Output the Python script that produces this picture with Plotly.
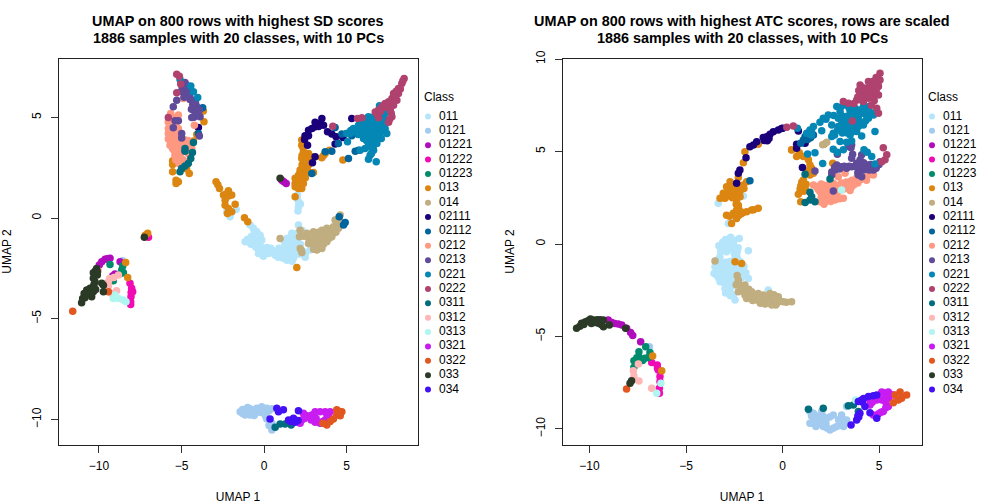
import plotly.graph_objects as go

classes = ["011","0121","01221","01222","01223","013","014","02111","02112","0212","0213","0221","0222","0311","0312","0313","0321","0322","033","034"]
colors = ["#B5E5FB","#A3CBF0","#B00CBE","#F00BB4","#008B6C","#DC8612","#C0AE80","#1A007A","#00659C","#FF9880","#5F4B9A","#0487B5","#B0426F","#006E7F","#FFB6B6","#AFF5F0","#C91CF0","#E2561F","#2A3A26","#4410F5"]

sd_011 = [(-2.26,.31),(-2.06,.06),(-1.69,.43),(-.85,-.35),(-.44,-.68),(-.24,-.85),(-.64,-1.01),(-.14,-1.09),(-.54,-1.26),(-1.15,-1.18),(-.24,-1.34),(.17,-1.46),(-.34,-1.76),(.27,-1.76),(.67,-1.84),(1.07,-1.92),(1.38,-2.09),(1.78,-2),(2.49,-1.95),(1.48,-1.59),(1.58,-1.18),(1.78,-.93),(1.88,-1.34),(1.68,-.76),(2.08,-.35),(2.08,.81),(2.08,.56),(2.02,1.14),(2.29,-.6),(2.79,-1.59),(1.07,-1.59),(1.28,-1.34),(-.45,-1.1),(-.3,-1.5),(.5,-1.6),(.9,-1.5),(1.3,-1.7),(1.7,-1.6),(2.1,-1.8),(2.2,-1.3),(-.75,-.9),(-.9,-1.1),(.1,-1.75),(1.4,-1.0),(1.0,-1.75),
 (-.6,-.6),(-.35,-1.3),(-.8,-1.3),(-.1,-1.55),(.4,-1.5),(.6,-1.75),(1.2,-1.55),(1.55,-1.9),(1.9,-1.75),(2.35,-1.65),(2.5,-1.75),(1.5,-1.35),(1.7,-1.15),(2,-1.1),(2,-.75),(.15,-1.7),(-.05,-1.9),(-.5,-1.45),(1.15,-2),(.85,-1.95),(1.7,-2.15),(1.25,-1.2),(2.05,.35),(2.2,.7),(2,1),(-.65,-.5),(-1,-1.05)]
sd_0121 = [(-1.45,-9.61),(-1.15,-9.52),(-.85,-9.47),(-1.15,-9.77),(-.85,-9.77),(-.54,-9.69),(-.44,-9.44),(-.14,-9.36),(.16,-9.44),(.46,-9.47),(.06,-9.74),(.16,-9.97),(.47,-10.19),(.47,-10.52),(-.5,-9.5),(-1.3,-9.7),(.2,-9.6),(-8.58,-2.12),(-1.3,-9.5),(-1,-9.4),(-.7,-9.55),(-.35,-9.55),(-.6,-9.8),(-1,-9.65),(-.7,-9.7),(-.1,-9.5),(.3,-9.55),(.1,-9.85),(.3,-10.3),(-.2,-9.65)]
sd_01221 = [(-9.33,-2),(-9.63,-2.05),(-9.83,-2.17),(-9.98,-2.33),(-8.72,-2.17),(-9.03,-2.78),(-9.17,-2.88),(-9.5,-2.02),(1.07,1.88),(1.34,1.72),(1.2,1.8)]
sd_01222 = [(-8.12,-3.24),(-8.02,-3.49),(-7.96,-3.66),(-8.06,-3.91),(-8.08,-4.15),(-8.08,-4.29),(-8.05,-3.7),(-7.0,-.95)]
sd_01223 = [(-9.33,-2.3),(-8.56,-2.38),(-8.62,-2.58),(-8.52,-2.71),(-9.13,-3.11),(-8.7,-2.75),(-9.25,-3.05)]
sd_013 = [(2.28,3.87),(2.48,3.7),(2.28,3.62),(2.38,3.29),(2.69,3.2),(2.59,2.96),(2.28,2.96),(2.89,3.04),(2.69,2.63),(2.38,2.63),(2.18,2.38),(2.48,2.3),(2.69,2.3),(2.08,2.13),(2.38,2.05),(1.88,1.97),(2.18,1.8),(2.38,1.72),(1.88,1.72),(2.08,1.47),(2.28,1.47),(1.88,1.55),(2.99,2.26),(3.49,2.99),(3.7,3.2),(3.96,3.37),(4.77,2.88),(2.3,2.2),(2.5,2.5),(2,1.9),(2.2,2.1),(2.3,2.65),(2.5,2),(2.25,1.9),(2.05,1.75),(2.2,1.6),(2.5,2.15),(2.55,3.05),(2.35,3.5),(2.15,2.2),(2.6,2.45),(2.3,3.1),(2.75,3),(3.6,3.1),
 (-2.91,1.8),(-2.7,1.47),(-2.46,1.14),(-2.16,1.35),(-1.96,1.14),(-2.36,.89),(-2.36,.64),(-2.16,.48),(-1.96,.31),(-1.75,.68),(-2.22,.23),(-1.19,.01),(-.99,-.18),(1.98,-2.45),(1.88,1.06),(-2.3,1.2),(-2.15,1.1),(-2.8,1.65),
 (-3.68,5.31),(-3.64,4.78),(-4.08,4.15),(-4.28,3.82),(-5.54,2.84),(-5.54,2.66),(-5.54,2.3),(-4.69,2.43),(-4.53,2.21),(-5.33,1.88),(-5.19,1.8),(-5.33,1.72),(-5.45,2.75),(-7.2,-.85),(-7.05,-.75),(-8.38,-2.2),(-8.26,-2.95)]
sd_014 = [(.97,-1.01),(2.18,-.6),(2.14,-.93),(2.18,-1.51),(2.29,-1.72),(2.59,-.76),(2.79,-1.01),(2.99,-.68),(2.69,-1.26),(2.99,-1.34),(3.2,-1.59),(3.5,-1.51),(3.3,-1.09),(3.6,-.85),(3.5,-.6),(3.8,-.51),(4,-.76),(3.8,-1.18),(4.2,-.43),(4.41,-.18),(4.51,-.51),(4.61,.15),(3.2,-.85),(3,-1),(3.7,-1.01),(4.1,-.93),(3.5,-1.18),(4.3,-.1),(4.2,-.75),(3,-1.55),(2.7,-1),(3.3,-.7),
 (2.85,-.85),(3.1,-1.2),(3.4,-1.35),(3.6,-1.3),(2.85,-1.15),(3.15,-1.4),(3.85,-.85),(3.95,-1),(3.4,-.9),(3.55,-1),(4.1,-.6),(4.3,-.5),(4.4,-.35),(4.55,-.05),(3.65,-.65),(3.95,-.55),(3,-.85),(2.4,-.9),(2.25,-1.6),(4.35,-.7)]
sd_02111 = [(3.5,4.94),(3.39,4.69),(3.09,4.75),(3.09,4.53),(3.6,4.61),(2.69,4.36),(2.48,4.08),(2.69,4.08),(3.84,4.28),(4.1,4.17),(4.36,4.03),(4.77,4),(4.3,3.67),(2.63,3.62),(3.09,3.04),(2.93,2.74),(5.31,4.94),(-3.98,4.5),(2.9,4.45),(3.3,4.55),(2.45,3.9)]
sd_02112 = [(4.71,4.17),(5.01,4.2),(5.31,4.08),(4.3,4.5),(4.5,3.7),(2.89,2.21),(3.7,3.29),(4.1,3.32),(5.52,3.32),(5.72,3.37),(5.11,2.96),(-3.72,5.47),(-3.98,4.2),(4.55,.06),(4.81,-.35),(4.91,-.22)]
sd_0212 = [(-5.66,5.19),(-5.8,4.75),(-5.19,5.11),(-4.89,5.94),(-4.22,4.61),(-5.8,4.45),(-5.8,4.2),(-5.5,4.28),(-5.19,4.45),(-5.8,3.92),(-5.5,3.95),(-5.19,4.03),(-5.7,3.62),(-5.4,3.7),(-5.09,3.75),(-4.79,3.87),(-4.59,3.62),(-5.46,3.37),(-5.19,3.45),(-5.4,3.12),(-5.09,3.04),(-4.89,2.88),(-4.59,3.2),(-4.38,3.45),(-5.5,4.9),(-5.3,3.55),(-5,3.3),(-5.6,4.1),(-5.35,4.1),(-5.65,3.75),(-5.55,3.45),(-5.35,3.25),(-5.2,3.2),(-5.05,3.55),(-4.9,3.6),(-4.8,3.7),(-4.6,3.85),(-4.45,3.7),(-5,2.95),(-5.35,2.9),(-5.15,2.7),(-5.7,4.3),(-5.65,4.5),(-5.55,5),(-5.35,4.65)]
sd_0213 = [(-4.79,6.73),(-4.99,6.6),(-4.79,6.43),(-4.59,6.35),(-4.89,6.23),(-4.65,6.13),(-5.29,5.85),(-5.5,5.52),(-4.49,5.89),(-4.28,5.85),(-4.32,5.64),(-4.08,5.52),(-4.28,5.36),(-3.92,5.36),(-4.18,5.11),(-4.38,4.99),(-3.88,5.03),(-5.39,4.83),(-5.19,4.83),(-3.92,4.07),(-4.99,3.98),(-4.99,4.2),(-5.5,4.48),(-4.1,5.2),(-4.95,6.45),(-4.75,6.25),(-4.6,6.5),(-4.85,6),(-4.5,6),(-4.2,5.5),(-4.15,5.7),(-4.4,5.4),(-4.05,5.35),(-4,5.1),(-4.25,5),(-4.7,6.6),(-5,6.3)]
sd_0221 = [(7.33,5.44),(7.23,5.11),(7.43,4.86),(7.13,4.69),(7.33,4.45),(7.43,4.2),(7.03,4.28),(6.83,4.03),(6.53,3.7),(6.83,3.7),(6.63,3.37),(6.42,3.12),(6.32,2.92),(6.79,2.79),(6.99,5.57),(6.83,4.86),(6.53,4.69),(6.73,4.45),(6.32,5.03),(5.92,4.69),(6.12,4.53),(5.72,4.61),(5.41,4.45),(5.21,4.2),(5.52,4.28),(5.82,4.2),(6.22,4.12),(6.53,4.36),(6.02,3.95),(6.32,3.7),(5.05,3.79),(5.82,3.37),(6.12,3.45),(7,5),(6.9,4.3),(6.4,3.95),(6.6,4.1),(6.1,4.3),(7.1,3.95),(-5.09,6.88),(-4.44,6.56),(-4.28,6.27),(-4.02,5.99),
 (6.6,3.5),(6.5,3.2),(6.95,4.5),(7.25,4.6),(7.2,4.3),(6.9,4.1),(6.75,3.9),(6.65,4.65),(6.4,4.5),(6.25,4.7),(6.1,4.75),(5.95,4.45),(5.65,4.4),(5.7,4.15),(6,4.15),(6.4,4.3),(6.75,4.85),(6.6,5),(7.1,5.3),(7,5.4),(7.3,5.2),(6.5,3.5),(6.2,3.85),(6.6,3.85),(7.2,4.9),(6.45,4.85),(5.25,4.35),(5,4.2)]
sd_0222 = [(8.48,6.93),(8.34,6.68),(8.14,6.43),(7.84,6.18),(8.14,6.18),(7.74,5.94),(8.04,5.85),(7.54,5.77),(7.84,5.6),(7.33,5.69),(6.93,5.36),(6.73,5.27),(6.93,4.98),(7.64,5.36),(7.74,5.03),(7.54,4.75),(5.66,4.94),(5.92,4.98),(4.16,4.56),(7.95,5.95),(7.65,5.6),(8.25,6.4),(8,6.3),(7.9,5.85),(7.75,5.75),(7.5,5.55),(7.25,5.5),(7.6,5.45),(7.45,5.65),(7.15,5.55),(8.4,6.8),(6.85,5.15),(7.7,5.2),(7.6,4.9),(7.05,5.3),
 (-5.29,7.14),(-5.13,7.04),(-5.05,6.65),(-5.29,6.22),(-5.8,4.99)]
sd_0311 = [(-4.79,3.45),(-4.79,3.32),(-4.34,3.25),(-4.44,2.96),(-4.59,2.71),(-4.79,2.58),(-4.99,2.46),(-5.09,2.3),(-4.28,3.75),(.67,-10.38),(.97,-10.22),(1.27,-10.22),(1.64,-10.27)]
sd_0312 = [(-10.04,-2.62),(-9.43,-3.16),(-9.43,-3.38),(-8.93,-3.61),(-8.82,-2.83),(-9.23,-3.74),(-9.1,-2.95),(-9.35,-3.0)]
sd_0313 = [(-9.13,-3.99),(-8.82,-3.99),(-8.52,-4.07),(-8.36,-4.15),(-9.03,-3.82)]
sd_0321 = [(2.38,-9.69),(2.59,-9.81),(2.28,-10.02),(2.18,-10.19),(2.89,-9.77),(2.85,-10.02),(3.09,-9.61),(3.39,-9.61),(3.7,-9.61),(4,-9.61),(3.9,-9.86),(3.7,-10.02),(3.39,-10.19),(3.09,-10.14),(3.55,-10.1),(3.8,-9.75),(3.15,-9.95),(2.75,-9.85),(2.45,-9.95)]
sd_0322 = [(-9.43,-3.66),(-11.59,-4.62),(4.4,-9.52),(4.71,-9.61),(4.4,-9.77),(4.2,-9.97),(4,-10.1),(3.8,-10.27),(3.56,-10.19),(4.61,-9.81),(4.55,-9.6)]
sd_033 = [(-10.14,-2.5),(-10.34,-2.72),(-10.1,-2.83),(-10.34,-2.99),(-10.24,-3.16),(-9.83,-3.24),(-9.73,-3.33),(-10.34,-3.41),(-10.54,-3.49),(-10.74,-3.57),(-10.34,-3.66),(-10.64,-3.74),(-10.9,-3.74),(-10.99,-3.99),(-11.05,-4.2),(-10.44,-3.91),(-9.73,-3.66),(-7.25,-.95),(.97,1.97),(-10.45,-3.6),(-10.2,-3.55),(-10.6,-3.6),(-10.3,-3.3),(-10.25,-2.8),(-10.2,-2.6),(-10.75,-3.8),(-10.85,-3.95),(-10.5,-3.75),(-10.1,-2.65)]
sd_034 = [(.77,-9.44),(1.17,-9.52),(.87,-9.61),(.36,-9.97),(1.48,-10.02),(1.78,-9.94),(1.88,-10.14),(2.08,-9.56),(1.6,-10.1),(2.05,-10.05)]

atc_011 = [(-3.33,2.2),(-2.03,2.59),(-2.81,1.11),(-2.55,1.38),(-2.69,.36),(-2.24,.3),(-1.77,-.36),(-2.9,.03),(-2.55,-.06),(-3.16,-.24),(-2.9,-.42),(-3.24,-.69),(-2.9,-.98),(-2.46,-.69),(-3.5,-1.23),(-3.16,-1.23),(-2.81,-1.23),(-2.46,-1.32),(-3.55,-1.59),(-3.24,-1.68),(-2.9,-1.59),(-2.55,-1.59),(-2.12,-1.59),(-3.24,-2.04),(-2.9,-2.13),(-2.98,-2.4),(-1.77,-1.86),(-2.46,-3.03),(-.74,-2.49),(-2.55,-2.76),(-2.72,-2.49),(-2.12,-1.14),(-3.3,-.95),(-3,-1),(-2.7,-.95),(-2.3,-1),(-3.35,-1.45),(-3.05,-1.85),(-2.6,-2),(-2.3,-1.9),(-2,-1.2),(-3.1,.1),(-2.8,-.15),(-2.35,-.4),
 (-3.2,-.4),(-2.35,-.7),(-2.2,-.95),(-3.35,-.85),(-3.45,-1.05),(-3.2,-1.1),(-3,-1.35),(-2.7,-1.2),(-2.4,-1.15),(-2.2,-1.4),(-3.4,-1.35),(-3.1,-1.5),(-2.8,-1.5),(-2.6,-1.75),(-2.35,-1.5),(-3.3,-1.85),(-3.1,-2.05),(-2.8,-1.8),(-2,-1.7),(-1.9,-1.55),(-2.85,-2.3),(-2.7,-2.8),(-2.3,-.2),(-2.95,.25),(-2.5,.2),(-2.75,.1),(-3.3,-.1),(-2.65,-.25),(-2.5,-.5),(-2.95,-2.65),(-2.55,-2.25),(-2.15,-1.85),(-3.4,-1.7),(-3.2,-.2),(-3.05,-.25)]
atc_0121 = [(-6.9,-5.55),(1.42,-9.06),(2.03,-9.06),(1.6,-9.42),(1.42,-9.69),(1.86,-9.6),(2.11,-9.33),(2.11,-9.87),(2.46,-10.05),(2.81,-9.87),(3.16,-9.87),(3.32,-9.51),(3.06,-9.24),(2.63,-9.24),(2.29,-9.42),(3.32,-8.78),(1.73,-9.87),(1.6,-9.15),(2.25,-9.7),(2.9,-9.5),(1.5,-9.3),(1.75,-9.3),(1.95,-9.45),(2,-9.75),(1.6,-9.7),(2.3,-9.95),(2.65,-9.95),(3,-9.8),(3.25,-9.7),(2.45,-9.35),(3.1,-9.45)]
atc_01221 = [(-9.03,-4.11),(-8.85,-4.25),(-8.51,-4.32),(-8.33,-4.38),(-8.08,-4.56),(-7.87,-4.79),(-7.76,-4.94),(-7.35,-5.28),(-8.7,-4.3)]
atc_01222 = [(-6.78,-6.4),(-6.49,-6.54),(-6.44,-6.81),(-6.35,-7.17),(-6.35,-7.44),(-6.38,-7.8),(-6.38,-8.07),(-6.48,-6.7)]
atc_01223 = [(-7.09,-5.55),(-7.44,-5.82),(-7.44,-6.09),(-7.7,-6.31),(-7.38,-6.24),(-6.87,-5.87),(-6.95,-6.13),(-7.7,-6.67),(-7.13,-6.18),(-7.25,-6.3),(-7.55,-6.15)]
atc_013 = [(-6.73,-6.05),(-6.26,-6.85),(2.15,5.39),(.47,5.09),(.87,4.94),(.73,4.73),(1.08,4.73),(1.34,4.55),(1.42,4.27),(1.51,4.09),(1.25,3.95),(1.6,3.82),(1.42,3.73),(2.6,4.37),(1.08,3.46),(.99,3.23),(1.22,3.23),(.91,2.98),(1.17,3.01),(.82,2.69),(.94,2.29),(.95,3.15),(1.1,2.85),(1,3.35),
 (-1.26,5.4),(-1.95,4.99),(-2.03,4.39),(-2.29,3.6),(-2.72,3.37),(-2.9,3.1),(-2.55,3),(-2.29,3.19),(-2.03,3.19),(-1.86,3.37),(-3.07,2.74),(-2.81,2.74),(-2.46,2.74),(-2.21,2.83),(-3.24,2.47),(-2.98,2.47),(-2.38,2.38),(-2.29,2.1),(-2.38,1.84),(-2.12,1.65),(-1.86,1.75),(-1.6,1.84),(-1.26,1.93),(-2.9,1.56),(-2.55,1.66),(-2.38,1.38),(-2.64,1.11),(.47,5.08),(-2.46,-.96),(-2.12,-1.05),(-2.6,2.5),
 (-2.6,3.15),(-2.4,2.9),(-2.2,3),(-2,3),(-2.65,2.6),(-2.35,2.6),(-2.2,2.55),(-2.75,2.9),(-2.9,2.6),(-2.4,2.15),(-2.25,1.85),(-2.05,1.7),(-2.25,1.55),(-2.45,1.6),(-3.1,2.5),(-2.75,1.5),(-1.5,1.85)]
atc_014 = [(2.29,5.5),(2.08,5.36),(-3.5,-.92),(-2.29,-1.95),(-2.21,-2.22),(-1.95,-2.22),(-2.29,-2.58),(-1.95,-2.76),(-1.6,-2.58),(-1.26,-2.67),(-1.6,-2.94),(-1.86,-2.94),(-1.34,-3.03),(-1,-2.76),(-.65,-2.67),(-.91,-3.06),(-.56,-3.03),(-.22,-2.85),(-.31,-3.21),(.04,-3.12),(.47,-3.12),(-.56,-3.3),(-2.1,-2.5),(-1.3,-2.8),(-.8,-2.85),(-2.35,-1.7),(-1.75,-2.7),(-1.45,-2.75),(-1.1,-2.95),(-.75,-2.95),(-.4,-3),(-.1,-3.1),(.2,-3.15),(-2,-2.55),(-2.05,-2.4),(-2.4,-2.2),(-1.75,-2.45),(-1.55,-3.05),(-1.15,-3.2),(-.9,-3.25),(-.35,-3.3),(-.45,-2.75)]
atc_02111 = [(.01,6.26),(.82,6.11),(.73,5.39),(1.17,5.45),(.73,5.18),(1.03,4.13),(-.05,6.25),(-.22,6.16),(-.48,6.07),(-.65,5.94),(-.82,5.8),(-1,5.76),(-.79,5.58),(-1.34,5.53),(-1.51,5.35),(-1.69,5.26),(-1.89,4.66),(-2.21,4),(-2.29,3.82),(-2.38,3.28),(-.7,5.7),(-.95,5.6)]
atc_02112 = [(1.34,5.81),(1.17,5.81),(1.08,5.63),(.94,5.45),(1.6,5.9),(-1.69,3.42),(1.3,5.65),(1.45,5.75)]
atc_0212 = [(4.45,3.73),(4.27,3.55),(4.02,3.46),(3.76,3.46),(3.5,3.37),(3.32,3.19),(3.58,3.1),(2.89,3.64),(3.24,3.82),(1.6,3.19),(1.86,3.1),(2.11,3.19),(2.37,3.19),(2.63,3.28),(2.89,3.16),(3.06,3.1),(1.94,2.83),(2.11,2.83),(2.46,2.74),(2.89,2.83),(2.15,2.56),(2.46,2.47),(2.72,2.38),(1.94,2.29),(2.2,2.29),(3.15,2.47),(3.5,2.89),(4.71,3.73),(3.9,3.3),(2.7,2.9),(2.3,3),(3.25,3),
 (2.3,2.6),(2.55,2.6),(2.75,2.6),(2,3),(2.3,2.85),(1.85,2.95),(1.75,3.1),(2,3.25),(2.45,3.2),(2.75,3.05),(3.05,3.3),(3.3,3.35),(3.6,3.45),(3.85,3.6),(4.15,3.6),(4.35,3.45),(3.7,3.2),(3.4,3.1),(3.1,2.95),(2,2.5),(2.5,2.3),(2.95,2.45),(2.3,2.45),(2.15,2.15)]
atc_0213 = [(3.58,5.36),(3.41,5.27),(2.84,4.85),(3.63,4.85),(3.58,4.64),(4.1,4.82),(4.02,4.55),(3.84,4.37),(4.1,4.27),(4.36,4.27),(4.62,4.18),(4.88,4.27),(5.05,4.45),(4.71,4),(4.19,4),(3.93,4),(3.58,4.18),(3.32,4.09),(3.06,4.18),(2.81,4.27),(2.72,4),(2.55,3.73),(3.93,3.73),(4.1,3.64),(2.63,2.87),(1.68,3.95),(2.95,4.05),(4.4,4.05),(4.2,4.4),(3.95,4.2),(4.25,4.15),(4.55,4.3),(4.85,4.1),(4.05,4.05),(3.75,4.2),(3.2,4.2),(3.45,4.2),(2.7,4.15),(2.55,3.9),(3.9,3.85),(4.5,4),(5,4.3),(3.55,5.2)]
atc_0221 = [(4.1,8.27),(4.45,7.43),(4.19,7.43),(4.02,7.25),(3.76,7.34),(3.5,7.16),(3.24,7.52),(2.81,7.43),(2.98,7.16),(4.71,6.98),(4.45,6.8),(4.19,7.07),(3.93,6.89),(3.58,6.98),(3.15,6.62),(2.89,6.8),(2.55,6.44),(2.89,6.35),(3.15,6.17),(3.41,6.17),(3.67,6.26),(3.93,6.35),(4.19,6.44),(2.63,5.99),(2.55,5.81),(3.5,5.9),(3.84,6.08),(4.1,5.84),(4.79,6.08),(2.98,5.54),(3.32,5.5),(3.58,5.57),(2.63,5.12),(2.84,4.96),(3.15,5.09),(1.68,4.94),(1.3,4.87),(2.08,4.35),(4.22,5.09),(4.39,4.96),(4.62,4.73),(4.79,4.33),(2.37,6.98),(2.11,6.8),(1.94,6.58),(2.03,6.13),(1.6,6.35),(1.42,6.17),(1.25,5.99),(1.51,5.9),(.77,6.26),(3.4,6.4),(3.7,6.7),(3.3,6.9),
 (4.25,7.25),(4.35,6.95),(4,7.05),(3.75,7.1),(3.45,6.75),(3.25,6.75),(3.05,6.95),(2.65,6.95),(3.05,6.45),(3.3,6.3),(3.55,6.45),(3.8,6.5),(4.05,6.6),(4.3,6.65),(3.1,6),(3.35,6),(3.6,6.05),(2.85,6.15),(2.7,5.9),(3,7.4),(3.45,7.35),(4.6,7.1),(1.4,5.95),(2.25,6.75),(1.5,6.1)]
atc_0222 = [(5.05,9.23),(5.05,8.87),(4.88,8.78),(4.71,8.6),(4.45,8.78),(4.97,8.51),(4.27,8.42),(4.02,8.6),(4.71,8.24),(4.36,8.15),(4.02,8.15),(3.84,7.79),(4.97,8.06),(4.45,7.88),(4.19,7.7),(3.41,7.61),(3.15,7.7),(4.88,7.34),(4.97,7.07),(3.62,6.65),(.56,6.38),(.22,6.31),(5.4,4.82),(5.22,5.21),(5.31,4.55),(5.14,4.45),(4.65,8),(4.75,7.75),(4.85,9),(4.7,8.8),(4.55,8.55),(4.75,8.45),(4.4,8.4),(4.15,8.45),(3.95,8.3),(4.85,8.3),(4.5,8),(4.3,7.95),(3.9,7.95),(4.95,8.75),(3.7,7.6),(4,7.8),(4.6,7.5)]
atc_0311 = [(2.46,3.52),(1.17,3.77),(1.42,2.8),(1.51,2.56),(1.17,2.24),(1.42,2.38),(1.68,2.29),(1.34,-8.94),(2.11,-8.88),(3.41,-8.74),(3.67,-8.7),(3.93,-9.06)]
atc_0312 = [(-7.47,-6.49),(-7.73,-6.85),(-7.7,-7.13),(-7.44,-7.4),(-6.78,-7.8)]
atc_0313 = [(3.06,2.92),(-6.52,-8.07),(-6.3,-7.53),(3.79,-8.43)]
atc_0321 = [(4.53,-8.43),(5.14,-8),(5.48,-8),(4.88,-8.43),(5.14,-8.43),(5.48,-8.34),(4.53,-8.7),(5.48,-8.79),(5.22,-9.06),(4.96,-9.19),(4.7,-9.24),(5.74,-8.16),(5.3,-8.05),(5.6,-8.15),(5.35,-8.3),(5.35,-8.55),(5.35,-8.85),(5.1,-9.1),(4.85,-8.3),(4.65,-8.55),(5,-8.35)]
atc_0322 = [(-8.08,-7.84),(6.09,-8),(6.43,-8.16),(6.17,-8.34),(5.83,-8.16),(5.74,-8.58),(6,-8.43)]
atc_033 = [(-10.67,-4.56),(-10.41,-4.29),(-10.06,-4.14),(-9.8,-4.11),(-9.54,-4.29),(-9.28,-4.11),(-9.28,-4.47),(-8.97,-4.38),(-8.13,-4.56),(-7.82,-7.39),(-7.9,-7.53),(-10.25,-4.25),(-9.9,-4.3),(-9.6,-4.1),(-10.5,-4.45),(-10.2,-4.2),(-9.95,-4.05),(-9.7,-4.25),(-9.4,-4.35),(-9.45,-4.1),(-10.3,-4.35)]
atc_034 = [(4.01,-9.15),(3.84,-9.51),(3.55,-9.78),(4.1,-8.43),(4.45,-8.25),(4.88,-8.16),(4.27,-8.79),(4.53,-9.12),(4.88,-9.42),(3.93,-8.52),(3.95,-9.35),(4.2,-8.35),(4.7,-8.2),(3.9,-9.3),(4.15,-8.55)]

sd_points = [sd_011,sd_0121,sd_01221,sd_01222,sd_01223,sd_013,sd_014,sd_02111,sd_02112,sd_0212,sd_0213,sd_0221,sd_0222,sd_0311,sd_0312,sd_0313,sd_0321,sd_0322,sd_033,sd_034]
atc_points = [atc_011,atc_0121,atc_01221,atc_01222,atc_01223,atc_013,atc_014,atc_02111,atc_02112,atc_0212,atc_0213,atc_0221,atc_0222,atc_0311,atc_0312,atc_0313,atc_0321,atc_0322,atc_033,atc_034]

FONT = "Liberation Sans"
W, H = 1008, 504
fig = go.Figure()

for pts, xa, ya in ((sd_points, "x", "y"), (atc_points, "x2", "y2")):
    for name, col, p in zip(classes, colors, pts):
        fig.add_trace(go.Scatter(x=[a for a, _ in p], y=[b for _, b in p], mode="markers", name=name,
                                 xaxis=xa, yaxis=ya, showlegend=False, hoverinfo="name+x+y",
                                 marker=dict(color=col, size=7.5, line=dict(width=0))))

for xa, ya, x0 in (("x3", "y3", 423), ("x4", "y4", 927)):
    fig.add_trace(go.Scatter(x=[x0 + 5] * 20, y=classes, xaxis=xa, yaxis=ya, mode="markers", showlegend=False,
                             hoverinfo="skip", marker=dict(color=colors, size=6, line=dict(width=0))))
    fig.add_trace(go.Scatter(x=[x0 + 16] * 20, y=classes, xaxis=xa, yaxis=ya, mode="text", text=classes,
                             textposition="middle right", showlegend=False, hoverinfo="skip",
                             textfont=dict(family=FONT, size=12, color="black"), cliponaxis=False))

def dom(a, b, total):
    return [a / total, b / total]

def ydom(top, bottom):
    return [1 - bottom / H, 1 - top / H]

axis_common = dict(showgrid=False, zeroline=False, showline=True, linecolor="#222", linewidth=1, mirror=True,
                   ticks="outside", ticklen=7, tickcolor="#333", tickwidth=1, automargin=False,
                   tickfont=dict(family=FONT, size=12, color="black"))
title_font = dict(family=FONT, size=12, color="black")

leg_top, leg_bot = 85, 400
leg_range = [(leg_bot - 116.5) / 14.37, (leg_top - 116.5) / 14.37]
leg_axis = dict(visible=False, type="category", categoryorder="array", categoryarray=classes, automargin=False,
                domain=ydom(leg_top, leg_bot), range=leg_range, fixedrange=True)

fig.update_layout(
    width=W, height=H, autosize=False, margin=dict(l=0, r=0, t=0, b=0),
    paper_bgcolor="white", plot_bgcolor="white", showlegend=False,
    xaxis=dict(domain=dom(58.5, 417.5, W), range=[-12.45, 9.29], tickvals=[-10, -5, 0, 5], anchor="y", ticklabelstandoff=3,
               title=dict(text="UMAP 1", font=title_font, standoff=20), **axis_common),
    yaxis=dict(domain=ydom(58.5, 444.5), range=[-11.24, 7.92], tickvals=[-10, -5, 0, 5], tickangle=-90, anchor="x", ticklabelstandoff=5,
               title=dict(text="UMAP 2", font=title_font, standoff=16), **axis_common),
    xaxis2=dict(domain=dom(562.5, 921.5, W), range=[-11.4, 7.2], tickvals=[-10, -5, 0, 5], anchor="y2", ticklabelstandoff=3,
                title=dict(text="UMAP 1", font=title_font, standoff=20), **axis_common),
    yaxis2=dict(domain=ydom(58.5, 444.5), range=[-10.84, 10.03], tickvals=[-10, -5, 0, 5, 10], tickangle=-90, anchor="x2", ticklabelstandoff=5,
                title=dict(text="UMAP 2", font=title_font, standoff=16), **axis_common),
    xaxis3=dict(domain=dom(423, 500, W), range=[423, 500], visible=False, anchor="y3", fixedrange=True, automargin=False),
    yaxis3=dict(anchor="x3", **leg_axis),
    xaxis4=dict(domain=dom(927, 1004, W), range=[927, 1004], visible=False, anchor="y4", fixedrange=True, automargin=False),
    yaxis4=dict(anchor="x4", **leg_axis),
    annotations=[
        dict(text="<b>UMAP on 800 rows with highest SD scores</b>", x=238 / W, y=1 - 21 / H),
        dict(text="<b>1886 samples with 20 classes, with 10 PCs</b>", x=238 / W, y=1 - 38 / H),
        dict(text="<b>UMAP on 800 rows with highest ATC scores, rows are scaled</b>", x=742 / W, y=1 - 21 / H),
        dict(text="<b>1886 samples with 20 classes, with 10 PCs</b>", x=742 / W, y=1 - 38 / H),
    ],
)
fig.update_annotations(xref="paper", yref="paper", showarrow=False, xanchor="center", yanchor="middle",
                       font=dict(family=FONT, size=14.4, color="black"))
for text_x in (423, 927):
    fig.add_annotation(text="Class", xref="paper", yref="paper", x=text_x / W, y=1 - 97 / H, showarrow=False,
                       xanchor="left", xshift=-1, yanchor="middle", font=dict(family=FONT, size=12, color="black"))

fig.write_html("out.html", config={"displayModeBar": False},
               post_script="document.body.style.margin='0';document.body.style.overflow='hidden';")
